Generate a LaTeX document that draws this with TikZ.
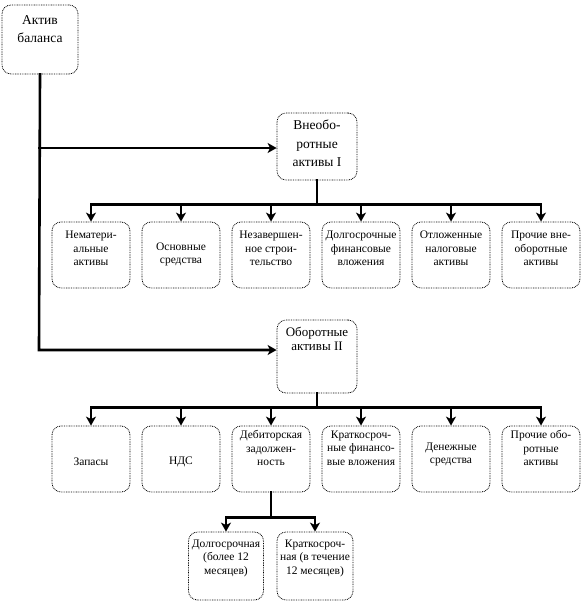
\documentclass[tikz,border=0pt]{standalone}
\usepackage{fontspec}
\setmainfont{Liberation Serif}
\usetikzlibrary{arrows.meta,calc}
\tikzset{
  >={Stealth[length=9pt,width=10pt,inset=2.5pt]},
  box/.style={draw=black, dash pattern=on 0.8pt off 0.9pt, line width=0.8pt,
    rounded corners=9pt, inner sep=0pt},
  txt/.style={align=center, inner sep=0pt, font=\fontsize{11.5}{13.5}\selectfont},
  bigtxt/.style={txt, font=\fontsize{13.5}{18.5}\selectfont},
  conn/.style={draw=black, line width=2.6pt, line cap=rect},
  arr/.style={conn, ->},
}
\begin{document}
\begin{tikzpicture}[x=1pt, y=1pt]
  \useasboundingbox (0,0) rectangle (584,-602);
  % ---------------- root and the two sections ----------------
  \node[box, minimum width=76, minimum height=69] (root) at (40,-39.5) {};
  \node[bigtxt] (roott) at ($(root)+(0,10.5)$) {Актив\\баланса};
  \node[box, minimum width=80, minimum height=67] (vne) at (317,-146.5) {};
  \node[bigtxt] (vnet) at ($(vne)+(0,3)$) {Внеобо-\\ротные\\активы I};
  \node[box, minimum width=80, minimum height=73] (obo) at (317,-356.5) {};
  \node[bigtxt, font=\fontsize{13}{14}\selectfont] (obot) at ($(obo)+(0,18)$) {Оборотные\\активы II};
  \coordinate (j1) at (39,-148);
  \coordinate (j2) at (39,-350);
  \draw[arr] (root.south) -- (j2) -- (j2 -| obo.west);
  \draw[arr] (j1) -- (j1 -| vne.west);

  % ---------------- non-current assets ----------------
  \foreach \n/\x/\dy/\tx in {1/91/6.5/{Нематери-\\альные\\активы},
      2/181/0.5/{Основные\\средства},
      3/271/6.5/{Незавершен-\\ное строи-\\тельство},
      4/361/6.5/{Долгосрочные\\финансовые\\вложения},
      5/451/6.5/{Отложенные\\налоговые\\активы},
      6/541/6.5/{Прочие вне-\\оборотные\\активы}}{
    \node[box, minimum width=78, minimum height=66] (A\n) at (\x,-255) {};
    \node[txt] (A\n t) at ($(A\n)+(0,\dy)$) {\tx};
  }
  \draw[conn] (vne.south) -- ++(0,-24) coordinate (b1);
  \draw[conn] (A1 |- b1) -- (A6 |- b1);
  \foreach \n in {1,...,6}{\draw[arr] (A\n |- b1) -- (A\n.north);}

  % ---------------- current assets ----------------
  \foreach \n/\x/\dy/\tx in {1/91/-3/{Запасы},
      2/181/-3/{НДС},
      3/271/11/{Дебиторская\\задолжен-\\ность},
      4/361/11/{Краткосроч-\\ные финансо-\\вые вложения},
      5/451/4.5/{Денежные\\средства},
      6/541/11/{Прочие обо-\\ротные\\активы}}{
    \node[box, minimum width=78, minimum height=66] (B\n) at (\x,-459) {};
    \node[txt] (B\n t) at ($(B\n)+(0,\dy)$) {\tx};
  }
  \draw[conn] (obo.south) -- ++(0,-14) coordinate (b2);
  \draw[conn] (B1 |- b2) -- (B6 |- b2);
  \foreach \n in {1,...,6}{\draw[arr] (B\n |- b2) -- (B\n.north);}

  % ---------------- receivables ----------------
  \node[box, minimum width=75, minimum height=68] (C1) at (226,-566) {};
  \node[txt] (C1t) at ($(C1)+(0,8)$) {Долгосрочная\\(более 12\\месяцев)};
  \node[box, minimum width=76, minimum height=68] (C2) at (315,-566) {};
  \node[txt] (C2t) at ($(C2)+(0,8)$) {Краткосроч-\\ная (в течение\\12 месяцев)};
  \draw[conn] (B3.south) -- ++(0,-25) coordinate (b3);
  \draw[conn] (C1 |- b3) -- (C2 |- b3);
  \foreach \n in {1,2}{\draw[arr] (C\n |- b3) -- (C\n.north);}
\end{tikzpicture}
\end{document}
